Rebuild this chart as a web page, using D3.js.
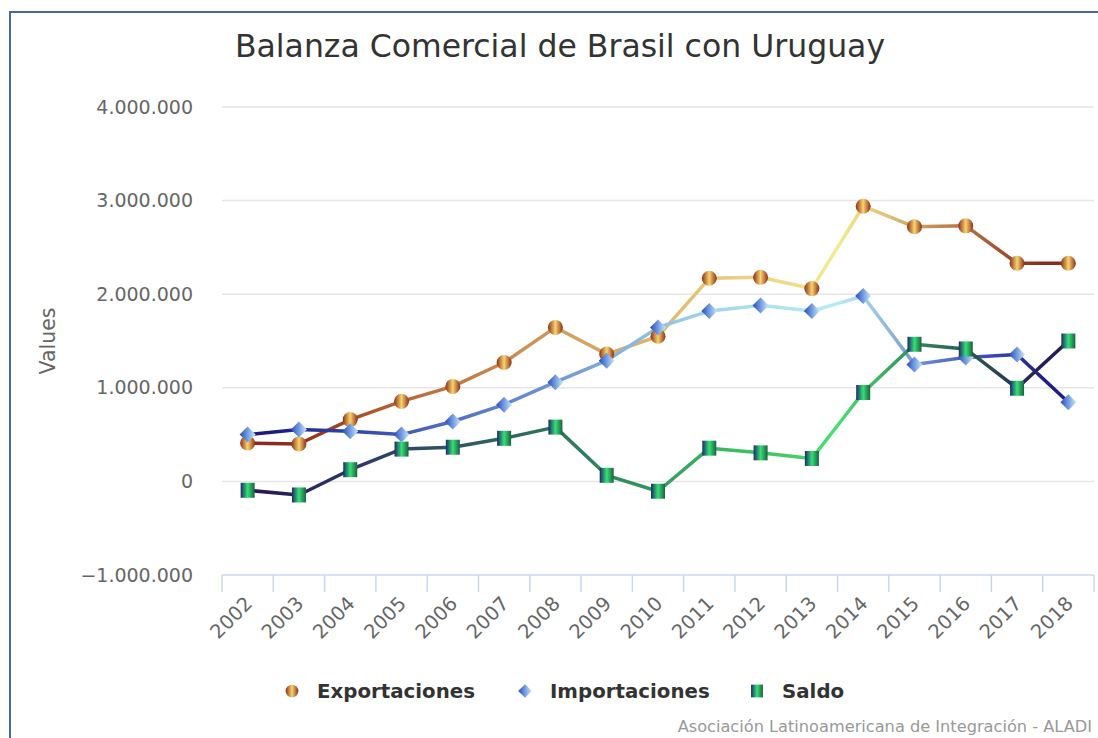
<!DOCTYPE html>
<html><head><meta charset="utf-8">
<script src="https://cdn.jsdelivr.net/npm/d3@7/dist/d3.min.js"></script>
<style>body{margin:0;background:#fff}svg{display:block}</style>
</head><body>
<svg id="chart" width="1098" height="738"></svg>
<script>
const years = ["2002","2003","2004","2005","2006","2007","2008","2009","2010","2011","2012","2013","2014","2015","2016","2017","2018"];
const exportaciones = [410000,400000,660000,855000,1015000,1270000,1645000,1360000,1550000,2170000,2180000,2060000,2940000,2720000,2730000,2330000,2330000];
const importaciones = [500000,555000,535000,500000,640000,820000,1060000,1290000,1645000,1820000,1880000,1820000,1980000,1250000,1325000,1355000,845000];
const saldo = [-95000,-145000,125000,345000,365000,460000,580000,65000,-105000,355000,305000,245000,950000,1465000,1415000,995000,1500000];
const yTicks = [-1000000,0,1000000,2000000,3000000,4000000];
const seriesNames = ["Exportaciones","Importaciones","Saldo"];

const lineStops = {
  Exportaciones: ["#8a2a20","#9a3a22","#b05a30","#bc7040","#c4824a","#cc9254","#d4a462","#d8b068","#e0c070","#e8d080","#ecdc88","#f2ec90","#e0c070","#c08850","#a85a35","#8a2a1e"],
  Importaciones: ["#1a1a80","#2a3aa0","#3a4eb0","#4a66c0","#5a7ac8","#6a8cd0","#7aa0d8","#88b8e0","#98cce8","#a8dcec","#b0e4f0","#b8ecf4","#90b8dc","#5a78c8","#3a4ab0","#1e1e88"],
  Saldo: ["#2a1a5a","#2c2c66","#2e3e6a","#2e4e66","#2e5e62","#2e6e5e","#2e7e5c","#30905c","#36a85e","#3cbe62","#42cc66","#48e070","#3aaa60","#2e7058","#2a4a54","#281c58"]
};

(function () {
const svg = d3.select("#chart");
const font = "'DejaVu Sans', sans-serif";
const pLeft = 222, pRight = 1094, pTop = 107, pBottom = 575;

const x = d3.scaleBand().domain(years).range([pLeft, pRight]);
const y = d3.scaleLinear().domain([-1000000, 4000000]).range([pBottom, pTop]);
const cx = d => x(d) + x.bandwidth() / 2;

svg.append("rect").attr("x", 10).attr("y", 12).attr("width", 1100).attr("height", 740)
  .attr("fill", "#fff").attr("stroke", "#4a66a8").attr("stroke-width", 2);

const defs = svg.append("defs");
seriesNames.forEach((name, k) => {
  const g = defs.append("linearGradient").attr("id", "lg" + k)
    .attr("gradientUnits", "userSpaceOnUse")
    .attr("x1", cx(years[0])).attr("x2", cx(years[years.length - 1])).attr("y1", 0).attr("y2", 0);
  const stops = lineStops[name];
  stops.forEach((c, i) => g.append("stop").attr("offset", (i + 0.5) / stops.length).attr("stop-color", c));
});
const mg = [
  [["0", "#8e2e18"], ["0.5", "#f6d46e"], ["1", "#8e2e18"]],
  [["0", "#2a48b8"], ["0.55", "#7aa4e4"], ["1", "#d0e8f8"]],
  [["0", "#1c2a6a"], ["0.5", "#34e074"], ["1", "#1a6040"]]
];
mg.forEach((st, k) => {
  const g = defs.append("linearGradient").attr("id", "mg" + k).attr("x1", 0).attr("x2", 1).attr("y1", 0).attr("y2", 0);
  st.forEach(s => g.append("stop").attr("offset", s[0]).attr("stop-color", s[1]));
});

svg.append("g").selectAll("line").data(yTicks.filter(t => t > -1000000)).join("line")
  .attr("x1", pLeft).attr("x2", pRight).attr("y1", d => y(d)).attr("y2", d => y(d))
  .attr("stroke", "#e6e6e6").attr("stroke-width", 1.5);

const fmt = v => { const s = d3.format(",")(Math.abs(v)).replace(/,/g, "."); return (v < 0 ? "\u2212" : "") + s; };
svg.append("g").selectAll("text").data(yTicks).join("text")
  .attr("x", 193).attr("y", d => y(d)).attr("dy", "0.35em").attr("text-anchor", "end")
  .attr("font-family", font).attr("font-size", 19).attr("fill", "#666").text(fmt);

svg.append("text").attr("transform", `translate(55,341) rotate(-90)`).attr("text-anchor", "middle")
  .attr("font-family", font).attr("font-size", 20.5).attr("fill", "#666").text("Values");

svg.append("line").attr("x1", pLeft).attr("x2", pRight).attr("y1", pBottom).attr("y2", pBottom)
  .attr("stroke", "#ccd6eb").attr("stroke-width", 1.5);
const tickPos = years.map(d => x(d)).concat([pRight]);
svg.append("g").selectAll("line").data(tickPos).join("line")
  .attr("x1", d => d).attr("x2", d => d).attr("y1", pBottom).attr("y2", pBottom + 17)
  .attr("stroke", "#ccd6eb").attr("stroke-width", 1.5);
svg.append("g").selectAll("text").data(years).join("text")
  .attr("transform", d => `translate(${cx(d) + 1},${pBottom + 25}) rotate(-45)`)
  .attr("text-anchor", "end").attr("dy", "0.35em")
  .attr("font-family", font).attr("font-size", 19.5).attr("fill", "#666").text(d => d);

const allSeries = [exportaciones, importaciones, saldo];
const lineGen = d3.line().x((d, i) => cx(years[i])).y(d => y(d));
allSeries.forEach((vals, k) => {
  svg.append("path").datum(vals).attr("d", lineGen).attr("fill", "none")
    .attr("stroke", `url(#lg${k})`).attr("stroke-width", 3.5).attr("stroke-linejoin", "round");
});

function drawMarker(g, k, px, py, s) {
  if (k === 0) {
    g.append("circle").attr("cx", px).attr("cy", py).attr("r", 7.5 * s).attr("fill", "url(#mg0)");
  } else if (k === 1) {
    const h = 8 * s;
    g.append("path").attr("d", `M${px},${py - h}L${px + h},${py}L${px},${py + h}L${px - h},${py}Z`).attr("fill", "url(#mg1)");
  } else {
    g.append("rect").attr("x", px - 7 * s).attr("y", py - 7.5 * s).attr("width", 14 * s).attr("height", 15 * s).attr("fill", "url(#mg2)");
  }
}
allSeries.forEach((vals, k) => {
  const g = svg.append("g");
  vals.forEach((v, i) => drawMarker(g, k, cx(years[i]), y(v), 1));
});

svg.append("text").attr("x", 560).attr("y", 57).attr("text-anchor", "middle")
  .attr("font-family", font).attr("font-size", 31.5).attr("fill", "#333")
  .text("Balanza Comercial de Brasil con Uruguay");

const legendX = [292, 525, 757];
seriesNames.forEach((name, k) => {
  const g = svg.append("g");
  drawMarker(g, k, legendX[k], 691, 0.85);
  g.append("text").attr("x", legendX[k] + 25).attr("y", 691).attr("dy", "0.35em")
    .attr("font-family", font).attr("font-size", 19.8).attr("font-weight", "bold").attr("fill", "#333").text(name);
});

svg.append("text").attr("x", 1092).attr("y", 732).attr("text-anchor", "end")
  .attr("font-family", font).attr("font-size", 16.2).attr("fill", "#999")
  .text("Asociación Latinoamericana de Integración - ALADI");
})();
</script>
</body></html>
